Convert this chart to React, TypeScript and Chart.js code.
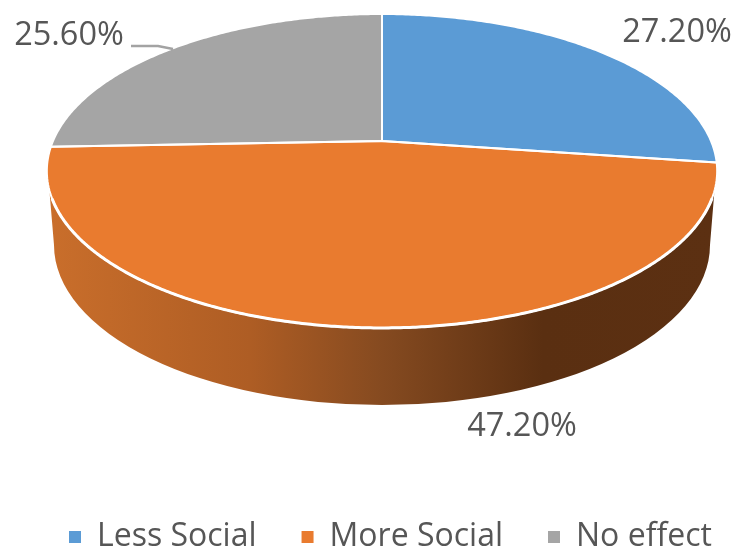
import React, { useEffect, useRef } from "react";
import { Chart, registerables } from "chart.js";

Chart.register(...registerables);

const categories = ["Less Social", "More Social", "No effect"];
const shares = [27.2, 47.2, 25.6];
const sliceColors = ["#5B9BD5", "#E97B2F", "#A5A5A5"];

const FONT = '"Open Sans", sans-serif';
const TEXT = "#565656";

// Perspective of the tilted disc: unit circle to screen.
const CX = 382;
const APEX_Y = 141;
const RADIUS_X = 329;
const TILT_A = 124.3;
const TILT_C = -0.191;

// Lower rim of the disc's side wall.
const BASE_CY = 245;
const BASE_RX = 328;
const BASE_RY = 160;
const WALL_TOP_Y = 190;
const SEAM_TOP_Y = 198;

const labelAnchors = [
  { x: 677, y: 32.5 },
  { x: 522, y: 426.5 },
  { x: 69, y: 35.5 },
];

function project(angle: number) {
  const u = Math.cos(angle);
  const v = Math.sin(angle);
  const d = 1 + TILT_C * v;
  return { x: CX + (RADIUS_X * u) / d, y: (TILT_A * v + APEX_Y) / d };
}

function rimPoints(start: number, end: number, steps = 160) {
  const pts = [];
  for (let i = 0; i <= steps; i++) pts.push(project(start + ((end - start) * i) / steps));
  return pts;
}

const tiltedPie = {
  id: "tiltedPie",
  beforeDatasetsDraw(chart: any) {
    const { ctx } = chart;
    const arcs = chart.getDatasetMeta(0).data;

    // Side wall under the slice that faces the viewer.
    const front = arcs[1];
    const frontRim = rimPoints(front.startAngle, front.endAngle, 400);
    const rim = frontRim.filter((p) => p.y >= WALL_TOP_Y);
    const seam = frontRim.filter((p) => p.y >= SEAM_TOP_Y);
    const wall = ctx.createLinearGradient(50, 0, 716, 0);
    wall.addColorStop(0, "#C96E2B");
    wall.addColorStop(0.3, "#AE5D24");
    wall.addColorStop(0.5, "#854A20");
    wall.addColorStop(0.74, "#5A2F11");
    wall.addColorStop(1, "#5C3012");
    ctx.save();
    ctx.beginPath();
    ctx.moveTo(rim[0].x, rim[0].y);
    rim.forEach((p) => ctx.lineTo(p.x, p.y));
    ctx.ellipse(CX, BASE_CY, BASE_RX, BASE_RY, 0, Math.PI, 0, true);
    ctx.closePath();
    ctx.fillStyle = wall;
    ctx.fill();

    // Top faces of the slices.
    arcs.forEach((arc: any, i: number) => {
      const pts = rimPoints(arc.startAngle, arc.endAngle);
      ctx.beginPath();
      ctx.moveTo(CX, APEX_Y);
      pts.forEach((p) => ctx.lineTo(p.x, p.y));
      ctx.closePath();
      ctx.fillStyle = sliceColors[i];
      ctx.fill();
    });
    arcs.forEach((arc: any) => {
      const pts = rimPoints(arc.startAngle, arc.endAngle);
      ctx.beginPath();
      ctx.moveTo(CX, APEX_Y);
      pts.forEach((p) => ctx.lineTo(p.x, p.y));
      ctx.closePath();
      ctx.strokeStyle = "#FFFFFF";
      ctx.lineWidth = 2;
      ctx.lineJoin = "round";
      ctx.stroke();
    });

    // White seam between the top face and the wall.
    ctx.beginPath();
    seam.forEach((p, i) => (i ? ctx.lineTo(p.x, p.y) : ctx.moveTo(p.x, p.y)));
    ctx.strokeStyle = "#FFFFFF";
    ctx.lineWidth = 3;
    ctx.stroke();
    ctx.restore();
    return false;
  },
  afterDraw(chart: any) {
    const { ctx } = chart;
    ctx.save();
    ctx.strokeStyle = "#A3A3A3";
    ctx.lineWidth = 2.5;
    ctx.beginPath();
    ctx.moveTo(131, 46);
    ctx.lineTo(158, 46);
    ctx.lineTo(173, 49);
    ctx.stroke();

    ctx.font = `32.5px ${FONT}`;
    ctx.fillStyle = TEXT;
    ctx.textAlign = "center";
    ctx.textBaseline = "middle";
    shares.forEach((v, i) => {
      ctx.fillText(`${v.toFixed(2)}%`, labelAnchors[i].x, labelAnchors[i].y);
    });
    ctx.restore();
  },
};

export default function App() {
  const ref = useRef<HTMLCanvasElement>(null);

  useEffect(() => {
    document.body.style.margin = "0";
    const chart = new Chart(ref.current as HTMLCanvasElement, {
      type: "pie",
      data: {
        labels: categories,
        datasets: [{ data: shares, backgroundColor: sliceColors, borderWidth: 0 }],
      },
      options: {
        animation: false,
        responsive: false,
        layout: { padding: { left: 24, right: -100, bottom: -16 } },
        plugins: {
          tooltip: { enabled: false },
          legend: {
            position: "bottom",
            align: "start",
            labels: {
              color: TEXT,
              boxWidth: 12,
              boxHeight: 12,
              padding: 45,
              font: { family: FONT, size: 32 },
            },
          },
        },
      },
      plugins: [tiltedPie],
    } as any);
    return () => chart.destroy();
  }, []);

  return <canvas ref={ref} width={735} height={547} style={{ display: "block" }} />;
}
